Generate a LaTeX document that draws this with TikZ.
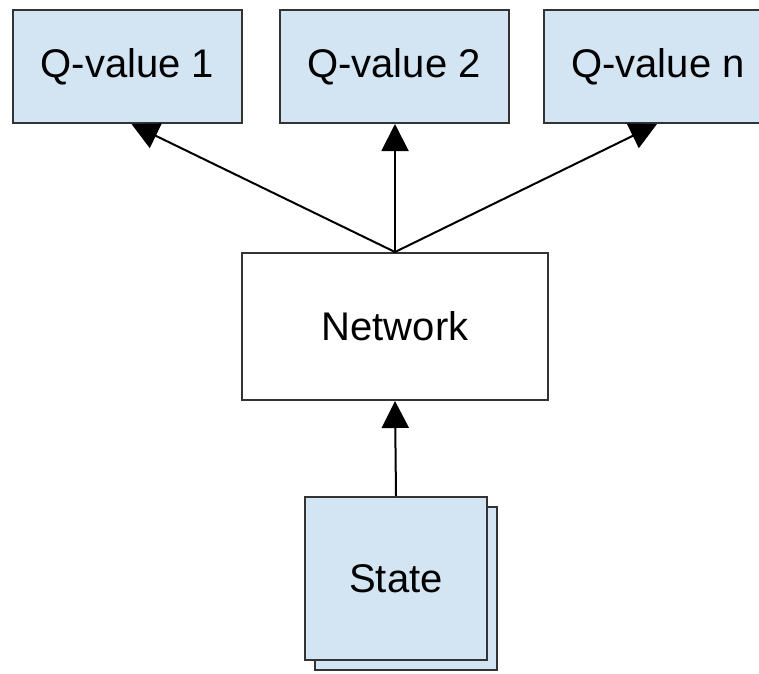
\documentclass[tikz,border=0pt]{standalone}
\usepackage{fontspec}
\setmainfont{Liberation Sans}
\usetikzlibrary{arrows.meta, positioning}
\definecolor{boxblue}{HTML}{D3E4F3}
\definecolor{edge}{HTML}{333333}
\tikzset{
  box/.style={draw=edge, line width=2pt, minimum width=229pt, minimum height=113pt, inner sep=0pt, font=\fontsize{40}{48}\selectfont},
  qbox/.style={box, fill=boxblue},
  sbox/.style={box, fill=boxblue, minimum width=182pt, minimum height=163pt},
  link/.style={draw=black, line width=2pt, -{Triangle[length=27pt, width=27pt]}}
}
\begin{document}
\begin{tikzpicture}[x=1pt, y=1pt]
\clip (0,0) rectangle (759,-673);
\node [qbox] (q1) at (127.5,-66.5) {Q-value 1};
\node [qbox] (q2) at (394,-66.5) {Q-value 2};
\node [qbox] (qn) at (658,-66.5) {Q-value n};
\node [box, minimum width=306pt, minimum height=147pt] (net) at (395,-326.5) {Network};
% stacked state cards
\node [sbox] (back) at (406,-588.5) {};
\node [sbox] (state) at (396,-578.5) {State};
\draw [link] (net.north) -- ([xshift=4pt]q1.south);
\draw [link] (net.north) -- (q2.south -| net.north);
\draw [link] (net.north) -- ([xshift=-1pt]qn.south);
\draw [link] (state.north) -- (net.south);
\end{tikzpicture}
\end{document}
